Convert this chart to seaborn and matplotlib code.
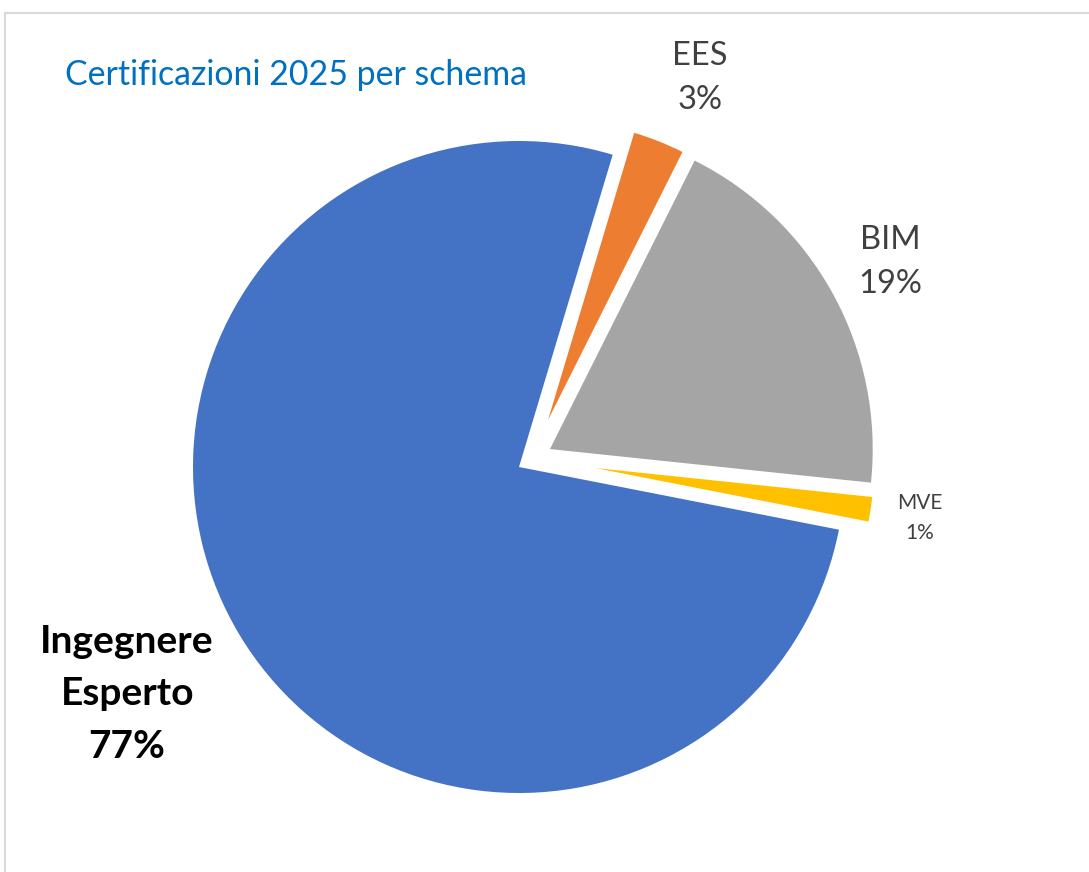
import matplotlib
matplotlib.use("Agg")
import matplotlib.pyplot as plt
from matplotlib.patches import Rectangle
import seaborn as sns

# ---------------------------------------------------------------
# dati
# ---------------------------------------------------------------
schemi = ["EES", "BIM", "MVE", "Ingegnere\nEsperto"]
quote = [2.76, 19.26, 1.42, 76.56]
colori = ["#ED7D31", "#A5A5A5", "#FFC000", "#4472C4"]

# ---------------------------------------------------------------
# layout (unita' = raggio della fetta principale)
# ---------------------------------------------------------------
spostamenti = [(0.089, 0.144), (0.095, 0.055), (0.233, -0.003), (0.0, 0.0)]
raggi = [0.92, 0.99, 0.855, 1.0]
pos_etichette = [(0.555, 1.193), (1.138, 0.629), (1.230, -0.156), (-1.202, -0.696)]
dim_etichette = [23.5, 23.5, 15, 28]
peso_etichette = ["normal", "normal", "normal", "bold"]
col_etichette = ["#404040", "#404040", "#404040", "black"]
interlinea = [1.55, 1.55, 1.6, 1.6]

sns.set_theme(style="white")
plt.rcParams["font.family"] = ["Lato", "DejaVu Sans"]

W, H = 1089, 872
fig = plt.figure(figsize=(W / 100, H / 100), dpi=100)
fig.patch.set_facecolor("white")

R = 326.0  # px
cx, cy = 519, 467  # centro torta (px dall'alto)
half = 1.25
ax = fig.add_axes([(cx - half * R) / W, (H - cy - half * R) / H, 2 * half * R / W, 2 * half * R / H])

wedges, _ = ax.pie(quote, colors=sns.color_palette(colori), startangle=73.3,
                   counterclock=False, radius=1.0,
                   wedgeprops=dict(linewidth=0))

for w, off, r in zip(wedges, spostamenti, raggi):
    w.set_center(off)
    w.set_radius(r)

ax.set_xlim(-half, half)
ax.set_ylim(-half, half)
ax.set_aspect("equal")
ax.axis("off")

tot = sum(quote)
for i, (nome, q) in enumerate(zip(schemi, quote)):
    testo = f"{nome}\n{q / tot * 100:.0f}%"
    x, y = pos_etichette[i]
    ax.text(x, y, testo, ha="center", va="center", fontsize=dim_etichette[i],
            fontweight=peso_etichette[i], color=col_etichette[i], linespacing=interlinea[i])

fig.text(65 / W, (H - 75) / H, "Certificazioni 2025 per schema", ha="left", va="center",
         fontsize=24.4, color="#0070C0")

# bordo dell'area grafico
fig.patches.append(Rectangle((5 / W, -0.1), 2, (H - 13) / H + 0.1, transform=fig.transFigure,
                             fill=False, edgecolor="#D9D9D9", linewidth=1.5))

fig.savefig("out.png", dpi=100)
